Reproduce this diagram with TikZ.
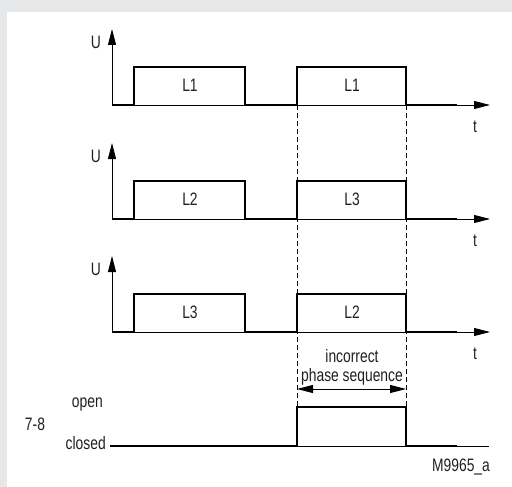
\documentclass[tikz,border=0pt]{standalone}
\usepackage{fontspec}
\setmainfont{Liberation Sans}[FakeStretch=0.77]
\usetikzlibrary{arrows.meta}
\definecolor{framegray}{HTML}{E6E7E9}
\definecolor{inkgray}{HTML}{231F20}

\begin{document}
\begin{tikzpicture}[x=1pt, y=-1pt,
  every node/.style={text=inkgray, font=\fontsize{18}{19}\selectfont, inner sep=0pt},
  axis/.style={line width=0.9pt, -{Triangle[length=16pt,width=8pt]}},
  signal/.style={line width=2.6pt, line join=miter},
  guide/.style={line width=0.9pt, dash pattern=on 5pt off 3pt},
  span/.style={line width=0.9pt, {Triangle[length=16pt,width=8pt]}-{Triangle[length=16pt,width=8pt]}}]
\useasboundingbox (0,0) rectangle (512,487);
\fill[framegray] (0,0) rectangle (512,487);
\fill[white] (7,12) rectangle (512,487);

% phase L1
\coordinate (o1) at (112,105);
\coordinate (u1) at (112,29);
\coordinate (t1) at (490,105);
\draw[axis] (o1) -- (u1);
\draw[axis] (o1) -- (t1);
\draw[signal] (o1) -- (134,105) -- (134,67) -- (245,67) -- (245,105) -- (297,105) -- (297,67) -- (406,67) -- (406,105) -- (457,105);
\node (U1) at (96,42) {U};
\node (T1) at (475,127) {t};
\node (a1) at (190,85) {L1};
\node (b1) at (352,85) {L1};

% phase L2
\coordinate (o2) at (112,219);
\coordinate (u2) at (112,143);
\coordinate (t2) at (490,219);
\draw[axis] (o2) -- (u2);
\draw[axis] (o2) -- (t2);
\draw[signal] (o2) -- (134,219) -- (134,181) -- (245,181) -- (245,219) -- (297,219) -- (297,181) -- (406,181) -- (406,219) -- (457,219);
\node (U2) at (96,156) {U};
\node (T2) at (475,241) {t};
\node (a2) at (190,199) {L2};
\node (b2) at (352,199) {L3};

% phase L3
\coordinate (o3) at (112,332);
\coordinate (u3) at (112,256);
\coordinate (t3) at (490,332);
\draw[axis] (o3) -- (u3);
\draw[axis] (o3) -- (t3);
\draw[signal] (o3) -- (134,332) -- (134,294) -- (245,294) -- (245,332) -- (297,332) -- (297,294) -- (406,294) -- (406,332) -- (457,332);
\node (U3) at (96,269) {U};
\node (T3) at (475,354) {t};
\node (a3) at (190,312) {L3};
\node (b3) at (352,312) {L2};

% fault window
\coordinate (g1) at (297,105);
\coordinate (g2) at (406,105);
\coordinate (h1) at (297,407);
\coordinate (h2) at (406,407);
\draw[guide] (g1) -- (h1);
\draw[guide] (g2) -- (h2);
\coordinate (s1) at (297,389);
\coordinate (s2) at (406,389);
\draw[span] (s1) -- (s2);
\node[align=center] (wrong) at (352,367) {incorrect\\phase sequence};

% relay 7-8
\coordinate (c1) at (110,446);
\coordinate (c2) at (489,446);
\draw[line width=0.9pt] (c1) -- (c2);
\draw[signal] (c1) -- (297,446) -- (297,407) -- (406,407) -- (406,446) -- (457,446);
\node[anchor=east] (open) at (103,405) {open};
\node[anchor=east] (closed) at (106,443) {closed};
\node (relay) at (35,424) {7-8};
\node (code) at (461,467) {M9965\_a};
\end{tikzpicture}
\end{document}
